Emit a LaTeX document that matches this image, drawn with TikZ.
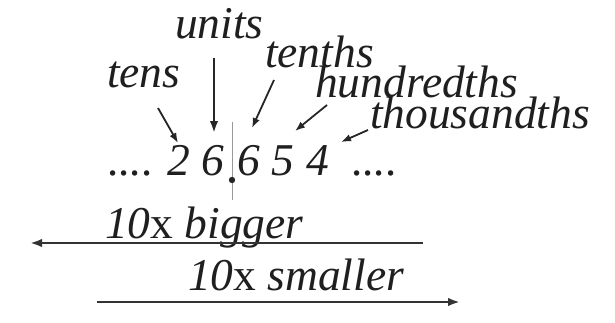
\documentclass[tikz,border=0pt]{standalone}
\usepackage{fontspec}
\setmainfont{Liberation Serif}
\usetikzlibrary{arrows.meta}
\tikzset{
  lbl/.style={anchor=base west, inner sep=0pt, outer sep=0pt, text=black!88,
    font=\fontsize{45.5}{50}\selectfont\itshape},
  ptr/.style={line width=1.8pt, draw=black!85, -{Latex[length=10pt,width=7.5pt]}},
  bigptr/.style={line width=2.6pt, draw=black!85, -{Latex[length=12pt,width=8.5pt]}},
  scalearrow/.style={line width=2.4pt, draw=black!80, -{Latex[length=12pt,width=8.5pt]}},
  divider/.style={line width=0.9pt, draw=black!40}
}
\begin{document}
\begin{tikzpicture}[x=1pt,y=-1pt]
\useasboundingbox (0,0) rectangle (615,322);
% labels
\node[lbl] (units) at (175,38) {units};
\node[lbl] (tens) at (107,87) {tens};
\node[lbl] (tenths) at (265,67) {tenths};
\node[lbl] (hund) at (315,97) {hundredths};
\node[lbl] (thou) at (370,128) {thousandths};
% digit row
\node[lbl] (ldots) at (108,175) {....};
\node[lbl] (d2) at (167,175) {2};
\node[lbl] (d6a) at (201,175) {6};
\node[lbl] (d6b) at (237,175) {6};
\node[lbl] (d5) at (271,175) {5};
\node[lbl] (d4) at (306,175) {4};
\node[lbl] (rdots) at (352,175) {....};
% divider and decimal point
\coordinate (divtop) at (232,122);
\coordinate (divbot) at (232,200);
\draw[divider] (divtop) -- (divbot);
\fill[black!85] (232,180) circle (3.2);
% pointer arrows
\coordinate (uS) at (214,58);  \coordinate (uE) at (214,133);
\coordinate (tS) at (158,108); \coordinate (tE) at (178,143);
\coordinate (hS) at (274,80);  \coordinate (hE) at (252,128);
\coordinate (dS) at (327,105); \coordinate (dE) at (295,131);
\coordinate (kS) at (368,130); \coordinate (kE) at (341,142);
\draw[bigptr] (uS) -- (uE);
\draw[ptr] (tS) -- (tE);
\draw[ptr] (hS) -- (hE);
\draw[ptr] (dS) -- (dE);
\draw[ptr] (kS) -- (kE);
% bottom
\node[lbl] (big) at (105,238) {10{\upshape x} bigger};
\node[lbl] (small) at (188,290) {10{\upshape x} smaller};
\coordinate (bS) at (423,243); \coordinate (bE) at (30,243);
\coordinate (sS) at (97,302);  \coordinate (sE) at (460,302);
\draw[scalearrow] (bS) -- (bE);
\draw[scalearrow] (sS) -- (sE);
\end{tikzpicture}
\end{document}
